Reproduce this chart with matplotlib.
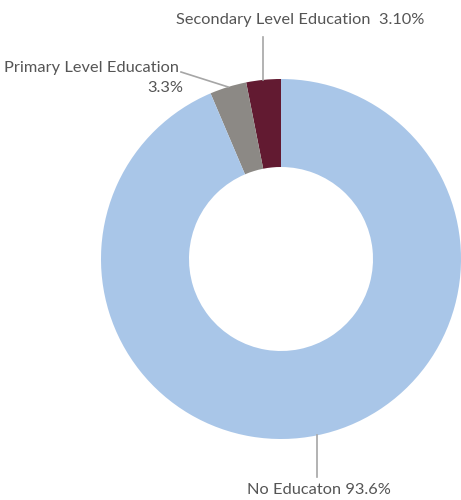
import numpy as np
import matplotlib
matplotlib.use('Agg')
import matplotlib.pyplot as plt

# data
categories = ['Secondary Level Education', 'Primary Level Education', 'No Educaton']
values = [3.1, 3.3, 93.6]
value_labels = ['3.10%', '3.3%', '93.6%']
colors = ['#621A31', '#8C8985', '#A9C6E8']

W, H = 461, 500
fig = plt.figure(figsize=(W / 100, H / 100), dpi=100)
ax = fig.add_axes([0, 0, 1, 1])

cx, cy, R = 281, H - 259, 180
wedges, _ = ax.pie(values, colors=colors, startangle=90, counterclock=True,
                   center=(cx, cy), radius=R, frame=True,
                   wedgeprops=dict(width=R - 92, linewidth=0))
ax.set_xlim(0, W)
ax.set_ylim(0, H)
ax.set_aspect('equal')
ax.axis('off')

txt = dict(family=['Lato', 'DejaVu Sans'], color='#555555', fontsize=11.8)
line_c = '#A6A6A6'


def edge_point(w, r=R):
    a = np.deg2rad((w.theta1 + w.theta2) / 2)
    return cx + r * np.cos(a), cy + r * np.sin(a)


# secondary: vertical leader up to label
x0, y0 = edge_point(wedges[0])
ax.plot([x0, x0], [y0, H - 37], color=line_c, lw=1.2)
ax.text(300, H - 20, categories[0] + '  ' + value_labels[0], ha='center', va='center', **txt)

# primary: slanted leader to label on the left
x1, y1 = edge_point(wedges[1])
ax.plot([x1, 181], [y1, H - 72], color=line_c, lw=1.2)
ax.text(179, H - 68, categories[1], ha='right', va='center', **txt)
ax.text(183, H - 88, value_labels[1], ha='right', va='center', **txt)

# no education: vertical leader down to label
x2, y2 = edge_point(wedges[2])
ax.plot([x2, x2], [y2, H - 477], color=line_c, lw=1.2)
ax.text(x2 + 2, H - 490, categories[2] + ' ' + value_labels[2], ha='center', va='center', **txt)

fig.savefig('out.png', dpi=100)
